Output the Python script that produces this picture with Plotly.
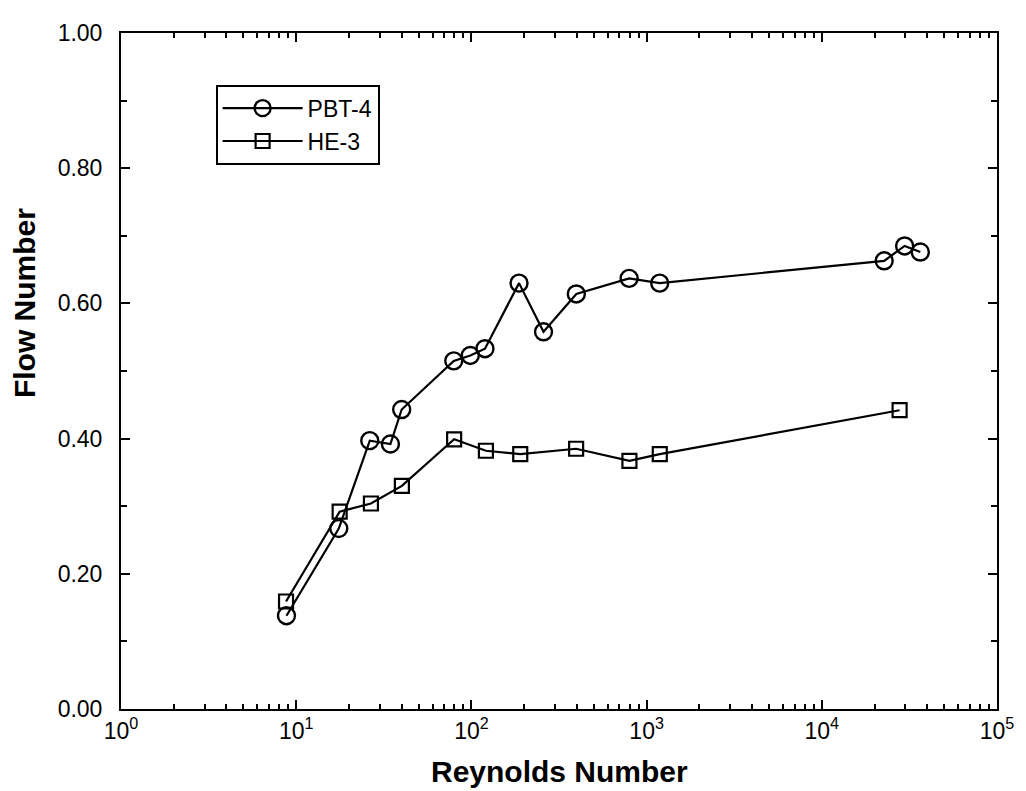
import plotly.graph_objects as go

# Data
pbt_re = [8.8, 17.5, 26.3, 34.5, 40.0, 79.3, 98.6, 119.5, 187, 258, 397, 795, 1188, 22700, 29700, 36500]
pbt_flow = [0.138, 0.267, 0.397, 0.392, 0.443, 0.515, 0.523, 0.533, 0.630, 0.558, 0.614, 0.637, 0.630, 0.663, 0.685, 0.676]

he_re = [8.75, 17.7, 26.7, 40.1, 79.7, 121, 190, 396, 798, 1189, 27800]
he_flow = [0.159, 0.292, 0.304, 0.330, 0.399, 0.382, 0.377, 0.385, 0.367, 0.377, 0.442]

x_exponents = [0, 1, 2, 3, 4, 5]
x_ticktext = ["10<sup>%d</sup>" % e for e in x_exponents]
y_ticks = [0.0, 0.2, 0.4, 0.6, 0.8, 1.0]

FONT = "Liberation Sans, Arial, Helvetica, sans-serif"

fig = go.Figure()
fig.add_trace(go.Scatter(
    x=pbt_re, y=pbt_flow, name="PBT-4", mode="lines+markers",
    line=dict(color="black", width=2.2),
    marker=dict(symbol="circle-open", size=17, color="black", line=dict(width=2.4, color="black")),
))
fig.add_trace(go.Scatter(
    x=he_re, y=he_flow, name="HE-3", mode="lines+markers",
    line=dict(color="black", width=2.2),
    marker=dict(symbol="square-open", size=14, color="black", line=dict(width=2.2, color="black")),
))

minor_x = [m * 10 ** e for e in range(0, 5) for m in range(2, 10)]

fig.update_layout(
    width=1018, height=791,
    margin=dict(l=113, r=19, t=20, b=90),
    paper_bgcolor="white", plot_bgcolor="white",
    font=dict(family=FONT, size=22, color="black"),
    showlegend=True,
    legend=dict(
        x=0.108, y=0.9236, xanchor="left", yanchor="top",
        bordercolor="black", borderwidth=2, bgcolor="white",
        font=dict(family=FONT, size=23, color="black"),
        itemwidth=80, tracegroupgap=0,
    ),
    xaxis=dict(
        type="log", range=[0, 5],
        tickvals=[10 ** e for e in x_exponents], ticktext=x_ticktext,
        ticks="inside", ticklen=9, tickwidth=2, tickcolor="black",
        showline=True, linewidth=2, linecolor="black", mirror="allticks",
        showgrid=False, zeroline=False,
        tickfont=dict(family=FONT, size=23, color="black"),
        minor=dict(tickvals=minor_x, ticks="inside", ticklen=5, tickwidth=2, tickcolor="black", showgrid=False),
    ),
    yaxis=dict(
        range=[0, 1], tickvals=y_ticks, tickformat=".2f",
        ticks="inside", ticklen=9, tickwidth=2, tickcolor="black",
        showline=True, linewidth=2, linecolor="black", mirror="allticks",
        showgrid=False, zeroline=False,
        tickfont=dict(family=FONT, size=23, color="black"),
        ticklabelstandoff=12,
        minor=dict(dtick=0.1, ticks="inside", ticklen=6, tickwidth=2, tickcolor="black", showgrid=False),
    ),
    annotations=[
        dict(text="<b>Reynolds Number</b>", xref="paper", yref="paper",
             x=0.5, y=-0.093, xanchor="center", yanchor="middle", showarrow=False,
             font=dict(family=FONT, size=30, color="black")),
        dict(text="<b>Flow Number</b>", xref="paper", yref="paper",
             x=-0.11, y=0.60, xanchor="center", yanchor="middle", showarrow=False,
             textangle=-90, font=dict(family=FONT, size=30, color="black")),
    ],
)

fig.write_html("out.html")
